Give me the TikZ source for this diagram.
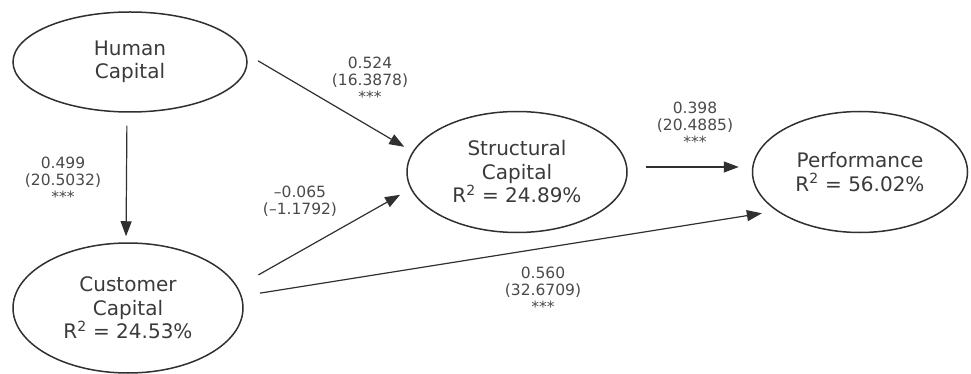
\documentclass[tikz,border=0pt]{standalone}
\usepackage{fontspec}
\setmainfont{DejaVu Sans}
\usetikzlibrary{shapes.geometric,arrows.meta}
\definecolor{inkline}{HTML}{303030}
\definecolor{inktext}{HTML}{3A3A3A}
\definecolor{inklabel}{HTML}{4A4A4A}
\begin{document}
\begin{tikzpicture}[x=1pt,y=-1pt,
  construct/.style={ellipse,draw=inkline,line width=1.5pt,inner sep=0pt,
    text=inktext,align=center,font=\fontsize{20}{23.5}\selectfont},
  coef/.style={text=inklabel,align=center,inner sep=0pt,
    font=\fontsize{15.5}{17}\selectfont},
  path/.style={draw=inkline,line width=1.2pt,
    -{Triangle[length=15pt,width=11pt]}}]
\useasboundingbox (0,0) rectangle (971,374);

% latent constructs
\node[construct,minimum width=234pt,minimum height=100pt] (hc) at (130,62) {Human\\Capital};
\node[construct,minimum width=230pt,minimum height=130pt] (cc) at (128,308) {Customer\\Capital\\R\textsuperscript{2} = 24.53\%};
\node[construct,minimum width=220pt,minimum height=121pt] (sc) at (517,172) {Structural\\Capital\\R\textsuperscript{2} = 24.89\%};
\node[construct,minimum width=215pt,minimum height=121pt] (pf) at (860,172) {Performance\\R\textsuperscript{2} = 56.02\%};

% structural paths
\draw[path,shorten <=13pt,shorten >=6pt] ([xshift=-3pt]hc.south) -- ([xshift=-2pt]cc.north);
\draw[path,shorten <=13.7pt,shorten >=9.6pt] (hc.4.5) -- (sc.169);
\draw[path,shorten <=24pt,shorten >=12pt] (cc.11) -- (sc.189);
\draw[path,shorten <=18.4pt,shorten >=14.8pt] (cc.6.1) -- (pf.205.2);
\draw[path,shorten <=18pt,shorten >=13pt] ([yshift=5pt]sc.east) -- ([yshift=5pt]pf.west);

% path coefficients (t-values)
\node[coef] (l1) at (370,80) {0.524\\(16.3878)\\***};
\node[coef] (l2) at (63,180) {0.499\\(20.5032)\\***};
\node[coef] (l3) at (300,201) {\textendash0.065\\(\textendash1.1792)};
\node[coef] (l4) at (695,125) {0.398\\(20.4885)\\***};
\node[coef] (l5) at (543,290) {0.560\\(32.6709)\\***};
\end{tikzpicture}
\end{document}
